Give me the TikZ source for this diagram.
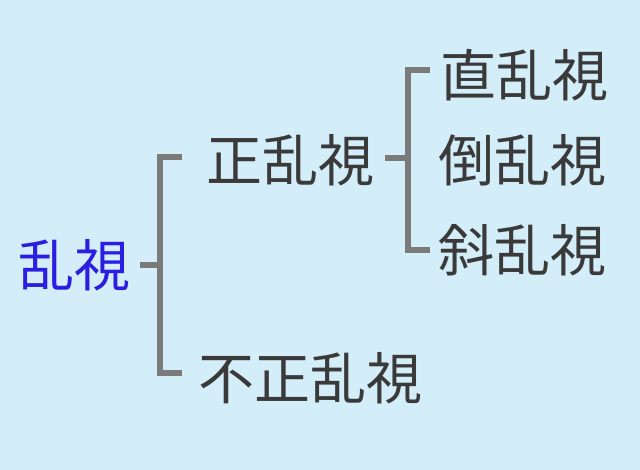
\documentclass[tikz,border=0pt]{standalone}
\usepackage{fontspec}
\newfontfamily\jp{Noto Sans CJK JP}
\definecolor{bg}{HTML}{D4EEF9}
\definecolor{txt}{HTML}{3A3A3A}
\definecolor{blu}{HTML}{2B1EE0}
\definecolor{ln}{HTML}{7A7A7A}
\begin{document}
\begin{tikzpicture}[x=1pt,y=1pt,
  lbl/.style={font=\jp\fontsize{56}{56}\selectfont, text=txt, inner sep=0pt},
  br/.style={draw=ln, line width=6pt}]
\fill[bg] (0,0) rectangle (640,470);
\useasboundingbox (0,0) rectangle (640,470);
\node[lbl, text=blu] (root) at (74,205) {乱視};
\node[lbl] (sei) at (290,310) {正乱視};
\node[lbl] (fusei) at (310,92) {不正乱視};
\node[lbl] (choku) at (524,395) {直乱視};
\node[lbl] (tou) at (522,310) {倒乱視};
\node[lbl] (sha) at (522,220) {斜乱視};
\coordinate (j1) at (160,205);
\coordinate (j2) at (408,312);
\draw[br] (140,205) -- (j1);
\draw[br] (182,313) -- (160,313) -- (160,97) -- (182,97);
\draw[br] (385,312) -- (j2);
\draw[br] (430,400) -- (408,400) -- (408,220) -- (430,220);
\end{tikzpicture}
\end{document}
